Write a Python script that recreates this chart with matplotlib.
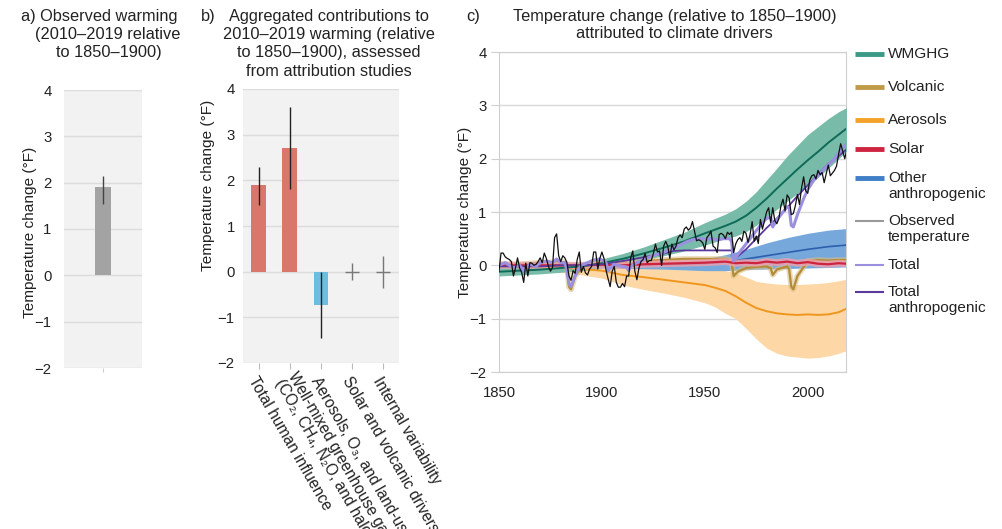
import matplotlib
matplotlib.use('Agg')
import matplotlib.pyplot as plt
from matplotlib.lines import Line2D
import numpy as np

plt.rcParams['font.family'] = ['Liberation Sans', 'DejaVu Sans']

# ---------------- data ----------------
# panel a
a_value = 1.9
a_low, a_high = 1.55, 2.15

# panel b
b_cats = ['Total human influence',
          'Well-mixed greenhouse gases\n(CO\u2082, CH\u2084, N\u2082O, and halogenated gases)',
          'Aerosols, O\u2083, and land-use change',
          'Solar and volcanic drivers',
          'Internal variability']
b_vals = [1.9, 2.7, -0.73, 0.0, 0.0]
b_low = [1.45, 1.8, -1.45, -0.18, -0.35]
b_high = [2.3, 3.6, 0.0, 0.18, 0.35]

# panel c
obs_years = np.arange(1850, 2020)
obs = [
    -0.11, 0.23, 0.23, 0.16, 0.13, 0.11, 0.07, -0.20, -0.05, 0.14,
    -0.05, -0.13, -0.32, 0.04, -0.20, 0.05, 0.04, 0.00, 0.02, 0.07,
    0.14, 0.05, 0.23, 0.13, -0.02, -0.11, -0.04, 0.52, 0.59, 0.18,
    0.07, 0.18, 0.14, 0.05, -0.20, -0.28, -0.10, -0.15, 0.11, 0.25,
    -0.13, -0.02, -0.14, -0.18, -0.07, -0.02, 0.25, 0.25, -0.07, 0.13,
    0.25, 0.13, -0.09, -0.25, -0.40, -0.11, -0.02, -0.32, -0.41, -0.41,
    -0.34, -0.40, -0.20, -0.20, 0.14, 0.27, -0.11, -0.27, -0.05, 0.07,
    0.11, 0.22, 0.05, 0.09, 0.09, 0.22, 0.40, 0.25, 0.27, 0.00,
    0.36, 0.45, 0.36, 0.13, 0.40, 0.29, 0.36, 0.52, 0.57, 0.52,
    0.68, 0.72, 0.66, 0.70, 0.82, 0.64, 0.46, 0.48, 0.46, 0.42,
    0.30, 0.52, 0.57, 0.64, 0.36, 0.33, 0.24, 0.58, 0.60, 0.57,
    0.50, 0.62, 0.58, 0.62, 0.24, 0.40, 0.48, 0.52, 0.45, 0.64,
    0.60, 0.43, 0.58, 0.82, 0.45, 0.55, 0.41, 0.86, 0.68, 0.84,
    1.00, 1.08, 0.80, 1.08, 0.84, 0.78, 0.88, 1.12, 1.24, 1.02,
    1.32, 1.26, 0.95, 0.97, 1.12, 1.33, 1.14, 1.45, 1.66, 1.40,
    1.35, 1.60, 1.68, 1.70, 1.62, 1.78, 1.70, 1.74, 1.55, 1.72,
    1.88, 1.68, 1.73, 1.78, 1.86, 2.08, 2.28, 2.14, 2.00, 2.18,
]

wmghg_years = [1850, 1870, 1890, 1900, 1910, 1920, 1930, 1940, 1950, 1960, 1965,
               1970, 1975, 1980, 1985, 1990, 1995, 2000, 2005, 2010, 2015, 2019]
wmghg = [-0.12, -0.08, -0.02, 0.04, 0.12, 0.22, 0.33, 0.45, 0.60, 0.74, 0.82,
         0.93, 1.08, 1.25, 1.44, 1.62, 1.80, 1.97, 2.13, 2.30, 2.45, 2.57]
wmghg_lo = [-0.20, -0.16, -0.10, -0.04, 0.02, 0.10, 0.18, 0.27, 0.38, 0.50, 0.55,
            0.63, 0.75, 0.90, 1.05, 1.20, 1.35, 1.50, 1.65, 1.82, 2.00, 2.15]
wmghg_hi = [-0.04, 0.00, 0.06, 0.12, 0.22, 0.34, 0.48, 0.62, 0.80, 0.96, 1.06,
            1.20, 1.38, 1.60, 1.82, 2.05, 2.25, 2.45, 2.60, 2.75, 2.88, 2.96]

aer_years = [1850, 1870, 1880, 1890, 1900, 1905, 1910, 1920, 1930, 1940, 1950, 1955,
             1960, 1965, 1970, 1975, 1980, 1985, 1990, 1995, 2000, 2005, 2010, 2015, 2019]
aer = [-0.02, -0.03, -0.04, -0.07, -0.10, -0.14, -0.18, -0.22, -0.27, -0.32, -0.37, -0.42,
       -0.48, -0.58, -0.70, -0.80, -0.86, -0.90, -0.92, -0.93, -0.92, -0.93, -0.92, -0.88, -0.81]
aer_hi = [0.06, 0.05, 0.04, 0.03, 0.02, 0.00, -0.02, -0.04, -0.06, -0.08, -0.08, -0.08,
          -0.10, -0.14, -0.22, -0.30, -0.33, -0.35, -0.36, -0.36, -0.35, -0.34, -0.32, -0.29, -0.26]
aer_lo = [-0.08, -0.10, -0.13, -0.18, -0.24, -0.30, -0.37, -0.45, -0.52, -0.60, -0.70, -0.78,
          -0.90, -1.00, -1.18, -1.38, -1.55, -1.65, -1.70, -1.72, -1.74, -1.73, -1.70, -1.65, -1.60]

oth_years = [1850, 1900, 1930, 1950, 1960, 1970, 1980, 1990, 2000, 2010, 2019]
oth = [0.00, 0.00, 0.01, 0.03, 0.06, 0.12, 0.18, 0.24, 0.30, 0.35, 0.38]
oth_hi = [0.03, 0.05, 0.08, 0.12, 0.20, 0.30, 0.42, 0.52, 0.60, 0.66, 0.69]
oth_lo = [-0.03, -0.05, -0.07, -0.10, -0.10, -0.08, -0.07, -0.06, -0.05, -0.04, -0.03]

volc_years = [1850, 1860, 1870, 1880, 1882, 1883, 1884, 1885, 1887, 1890, 1895, 1900,
              1902, 1903, 1905, 1910, 1912, 1913, 1915, 1920, 1930, 1940, 1950, 1960,
              1962, 1963, 1964, 1966, 1970, 1975, 1980, 1981, 1982, 1983, 1985, 1990,
              1991, 1992, 1993, 1995, 2000, 2005, 2010, 2015, 2019]
volc = [0.03, 0.02, 0.05, 0.06, 0.06, 0.00, -0.40, -0.45, -0.20, -0.05, 0.02, 0.05,
        0.04, -0.10, 0.00, 0.06, 0.05, -0.05, 0.04, 0.08, 0.10, 0.12, 0.12, 0.12,
        0.10, 0.05, -0.20, -0.12, -0.05, -0.03, -0.02, -0.04, -0.05, -0.18, -0.08, -0.02,
        -0.08, -0.40, -0.45, -0.20, 0.08, 0.10, 0.09, 0.10, 0.10]

solar_years = [1850, 1870, 1890, 1900, 1910, 1920, 1930, 1940, 1950, 1955, 1960, 1965,
               1970, 1975, 1980, 1985, 1990, 1995, 2000, 2005, 2010, 2015, 2019]
solar = [0.00, 0.00, 0.00, 0.01, 0.00, 0.02, 0.03, 0.04, 0.05, 0.06, 0.07, 0.04,
         0.05, 0.04, 0.07, 0.05, 0.07, 0.04, 0.06, 0.03, 0.02, 0.04, 0.03]

tot_years = [1850, 1853, 1857, 1860, 1862, 1865, 1868, 1870, 1873, 1876, 1878, 1880,
             1882, 1883, 1884, 1885, 1886, 1888, 1890, 1893, 1896, 1899, 1901, 1902,
             1903, 1904, 1906, 1908, 1910, 1912, 1913, 1914, 1917, 1920, 1923, 1926,
             1929, 1932, 1935, 1938, 1941, 1944, 1947, 1950, 1953, 1956, 1959, 1962,
             1963, 1964, 1966, 1968, 1971, 1974, 1977, 1980, 1982, 1983, 1985, 1988,
             1990, 1991, 1992, 1993, 1995, 1998, 2000, 2003, 2006, 2009, 2012, 2015,
             2017, 2019]
tot = [0.00, 0.05, -0.05, 0.00, -0.12, 0.02, -0.02, 0.05, 0.08, 0.05, 0.12, 0.05,
       0.05, -0.10, -0.35, -0.40, -0.30, -0.10, 0.00, 0.05, 0.10, 0.12, 0.08, 0.05,
       -0.10, -0.05, 0.02, 0.00, -0.02, -0.03, -0.10, -0.02, 0.05, 0.10, 0.15, 0.20,
       0.22, 0.28, 0.33, 0.38, 0.44, 0.48, 0.50, 0.49, 0.50, 0.48, 0.50, 0.50,
       0.45, 0.08, 0.20, 0.30, 0.45, 0.60, 0.75, 0.88, 0.90, 0.72, 0.85, 1.00,
       1.10, 1.08, 0.75, 0.72, 0.95, 1.25, 1.42, 1.60, 1.72, 1.85, 1.95, 2.10,
       2.20, 2.28]

anth_years = [1850, 1870, 1880, 1890, 1900, 1910, 1920, 1930, 1935, 1940, 1950, 1960,
              1963, 1964, 1970, 1975, 1980, 1985, 1990, 1995, 2000, 2005, 2010, 2015, 2019]
anth = [-0.02, -0.02, 0.00, 0.00, 0.02, 0.08, 0.15, 0.22, 0.27, 0.28, 0.28, 0.28,
        0.28, 0.10, 0.30, 0.50, 0.70, 0.88, 1.08, 1.30, 1.50, 1.70, 1.90, 2.05, 2.18]

# ---------------- styling ----------------
W, H = 1003, 529
fig = plt.figure(figsize=(W / 100, H / 100), dpi=100)


def fx(px):
    return px / W


def fy(py):
    return 1 - py / H


TXT = '#222222'
FS = 10.7     # tick labels
TFS = 11.8    # titles
LFS = 11.1    # axis labels / legend
XFS = 11.2    # panel b category labels

# ---------- panel a ----------
axa = fig.add_axes([fx(64), fy(368), fx(78), (368 - 90) / H])
axa.set_facecolor('#f2f2f2')
axa.bar([0], [a_value], width=0.2, color='#a3a3a3', zorder=2)
axa.errorbar([0], [a_value], yerr=[[a_value - a_low], [a_high - a_value]],
             fmt='none', ecolor='#444444', elinewidth=1, zorder=3)
axa.set_xlim(-0.5, 0.5)
axa.set_ylim(-2, 4)
axa.set_yticks(range(-2, 5))
axa.set_xticks([0])
axa.set_xticklabels([''])
axa.grid(axis='y', color='#dcdcdc', lw=1)
axa.set_axisbelow(True)
for s in axa.spines.values():
    s.set_visible(False)
axa.tick_params(axis='y', length=0, pad=9, labelsize=FS, labelcolor=TXT)
axa.tick_params(axis='x', length=3, color='#cccccc')

# ---------- panel b ----------
axb = fig.add_axes([fx(243), fy(363), fx(156), (363 - 89) / H])
axb.set_facecolor('#f2f2f2')
xb = np.arange(len(b_cats))
b_colors = ['#d9776d', '#d9776d', '#6cbfdc', 'none', 'none']
axb.bar(xb, b_vals, width=0.47, color=b_colors, zorder=2)
b_err = [[v - lo for v, lo in zip(b_vals, b_low)], [hi - v for v, hi in zip(b_vals, b_high)]]
for i in range(len(b_cats)):
    ec = '#222222' if i < 3 else '#777777'
    axb.errorbar([xb[i]], [b_vals[i]], yerr=[[b_err[0][i]], [b_err[1][i]]],
                 fmt='none', ecolor=ec, elinewidth=1, zorder=3)
    if i >= 3:
        axb.plot([xb[i]], [b_vals[i]], marker='_', ms=10, mew=1, color='#777777', zorder=3)
axb.set_xlim(-0.5, 4.5)
axb.set_ylim(-2, 4)
axb.set_yticks(range(-2, 5))
axb.set_xticks(xb)
shown = [c if '\n' not in c else '' for c in b_cats]
axb.set_xticklabels(shown, rotation=-60, ha='left', va='top',
                    rotation_mode='anchor', fontsize=XFS, color=TXT)
# the two-line category label is nudged so its first line sits on its tick
for i, c in enumerate(b_cats):
    if '\n' in c:
        axb.annotate(c, xy=(xb[i], 0), xycoords=axb.get_xaxis_transform(),
                     xytext=(5.6, -4.8), textcoords='offset points',
                     rotation=-60, ha='left', va='top', rotation_mode='anchor',
                     fontsize=XFS, color=TXT, linespacing=0.92, annotation_clip=False)
axb.grid(axis='y', color='#dcdcdc', lw=1)
axb.set_axisbelow(True)
for s in axb.spines.values():
    s.set_visible(False)
axb.tick_params(axis='y', length=0, pad=6, labelsize=FS, labelcolor=TXT)
axb.tick_params(axis='x', length=4, color='#bbbbbb', pad=4)

# ---------- panel c ----------
axc = fig.add_axes([fx(499), fy(372), fx(347), (372 - 52) / H])
axc.fill_between(aer_years, aer_lo, aer_hi, color='#fdd8a6', lw=0, zorder=1)
axc.fill_between(oth_years, oth_lo, oth_hi, color='#76a8dc', lw=0, zorder=2)
axc.fill_between(wmghg_years, wmghg_lo, wmghg_hi, color='#78bba9', lw=0, zorder=3)
axc.plot(aer_years, aer, color='#f0961e', lw=1.4, zorder=4)
axc.plot(oth_years, oth, color='#2c5fae', lw=1.2, zorder=4)
axc.plot(volc_years, volc, color='#d9c08a', lw=4, alpha=0.6, zorder=4)
axc.plot(volc_years, volc, color='#b48c36', lw=1.6, zorder=5)
axc.plot(solar_years, solar, color='#f2a0ac', lw=5, alpha=0.8, zorder=5)
axc.plot(solar_years, solar, color='#cf2440', lw=1.6, zorder=6)
axc.plot(wmghg_years, wmghg, color='#0e6b58', lw=1.4, zorder=6)
axc.plot(anth_years, anth, color='#5a3a9c', lw=1.3, zorder=7)
axc.plot(tot_years, tot, color='#9b8fe0', lw=2.2, zorder=8)
axc.plot(obs_years, obs, color='#111111', lw=0.9, zorder=9)
axc.set_xlim(1850, 2018.6)
axc.set_ylim(-2, 4)
axc.set_yticks(range(-2, 5))
axc.set_xticks([1850, 1900, 1950, 2000])
axc.grid(axis='y', color='#d9d9d9', lw=1)
axc.set_axisbelow(True)
for s in axc.spines.values():
    s.set_color('#cfcfcf')
axc.tick_params(axis='y', length=6, color='#cfcfcf', pad=3, labelsize=FS, labelcolor=TXT)
axc.tick_params(axis='x', length=0, pad=10, labelsize=FS, labelcolor=TXT)

# ---------- titles ----------
fig.text(fx(99), fy(16), 'a) Observed warming', ha='center', va='center', fontsize=TFS, color=TXT)
fig.text(fx(108), fy(34), '(2010\u20132019 relative', ha='center', va='center', fontsize=TFS, color=TXT)
fig.text(fx(109), fy(52), 'to 1850\u20131900)', ha='center', va='center', fontsize=TFS, color=TXT)

fig.text(fx(201), fy(16), 'b)', ha='left', va='center', fontsize=TFS, color=TXT)
for txt, y in [('Aggregated contributions to', 16), ('2010\u20132019 warming (relative', 34),
               ('to 1850\u20131900), assessed', 52), ('from attribution studies', 71)]:
    fig.text(fx(329), fy(y), txt, ha='center', va='center', fontsize=TFS, color=TXT)

fig.text(fx(466), fy(16), 'c)', ha='left', va='center', fontsize=TFS, color=TXT)
fig.text(fx(675), fy(16), 'Temperature change (relative to 1850\u20131900)', ha='center', va='center',
         fontsize=TFS, color=TXT)
fig.text(fx(674), fy(34), 'attributed to climate drivers', ha='center', va='center',
         fontsize=TFS, color=TXT)

# y labels
for xx, yy in [(30, 232), (208, 185), (465, 212)]:
    fig.text(fx(xx), fy(yy), 'Temperature change (\u00b0F)', rotation=90, ha='center', va='center',
             fontsize=LFS, color=TXT)

# ---------- legend (placed manually outside panel c) ----------
leg_items = [
    (['WMGHG'], 54, '#3a9a86', 3.5),
    (['Volcanic'], 87, '#c09a48', 3.5),
    (['Aerosols'], 120, '#f3a32a', 3.5),
    (['Solar'], 149, '#cf2440', 3.5),
    (['Other', 'anthropogenic'], 178, '#3f7fc6', 3.5),
    (['Observed', 'temperature'], 221, '#9a9a9a', 1.5),
    (['Total'], 265, '#9b8fe0', 1.5),
    (['Total', 'anthropogenic'], 292, '#5a3a9c', 1.5),
]
for lines, y, col, lw in leg_items:
    fig.add_artist(Line2D([fx(855), fx(884)], [fy(y), fy(y)], color=col, lw=lw,
                          solid_capstyle='butt'))
    for k, t in enumerate(lines):
        fig.text(fx(888), fy(y + 16 * k), t, ha='left', va='center', fontsize=LFS, color=TXT)

fig.savefig('out.png', dpi=100)
